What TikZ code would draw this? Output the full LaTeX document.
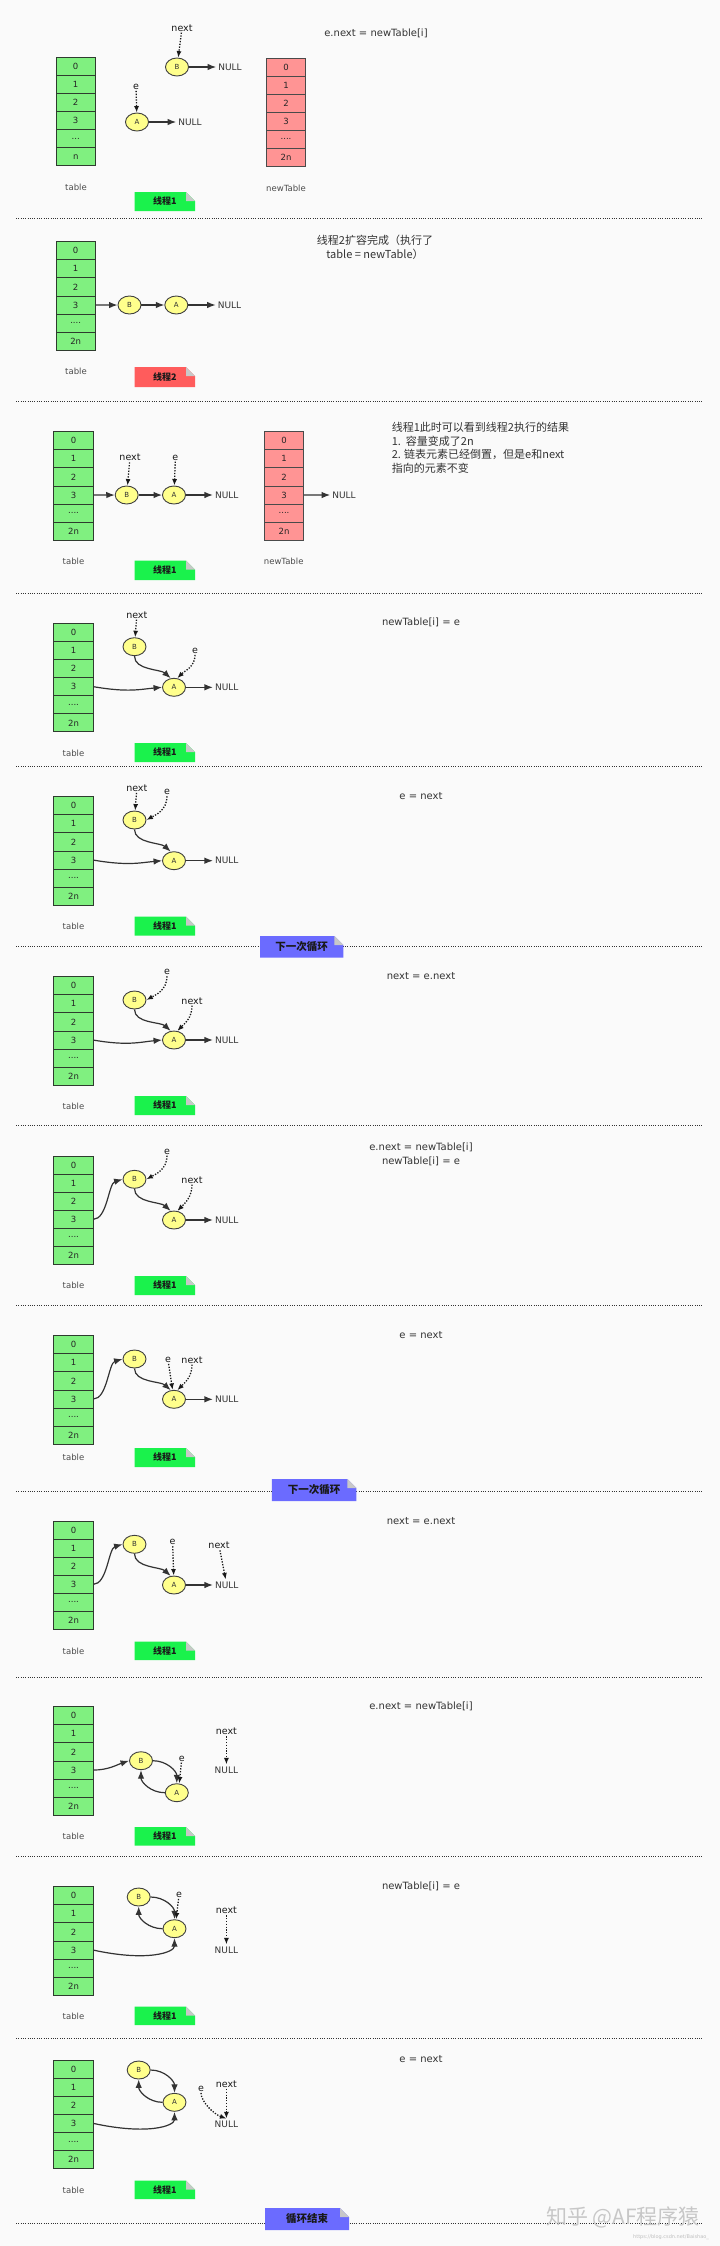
\documentclass[tikz,border=0pt]{standalone}
\usepackage{fontspec}
\setmainfont{DejaVu Sans}
\newfontfamily\cjk{Noto Sans CJK SC}
\usetikzlibrary{shapes.geometric,arrows.meta}
\definecolor{bgc}{HTML}{FAFAFA}
\definecolor{cellgreen}{HTML}{80F080}
\definecolor{cellbd}{HTML}{2E3B2E}
\definecolor{cellred}{HTML}{FF9494}
\definecolor{cellbdr}{HTML}{4A4A4A}
\definecolor{nodefill}{HTML}{FFFF8C}
\definecolor{nodebd}{HTML}{404040}
\definecolor{notegreen}{HTML}{1AF24C}
\definecolor{notered}{HTML}{FF5C5C}
\definecolor{noteblue}{HTML}{6B6BFF}
\definecolor{foldc}{HTML}{C8C8C8}
\definecolor{arrowc}{HTML}{333333}
\newcommand\celldots{....}
\newcommand\celldotsA{...}
\newcommand\mktable[5]{%
  \foreach \lab [count=\k from 0] in {#5}
    \node[#4] (#1-\k) at (#2,{#3+9.05+18.1*\k}) {\lab};
}
\newcommand\mknote[8]{%
  \fill[#6] (#2,#3) -- ({#4-9},#3) -- (#4,{#3+9}) -- (#4,#5) -- (#2,#5) -- cycle;
  \fill[foldc] ({#4-9},#3) -- ({#4-9},{#3+9}) -- (#4,{#3+9}) -- cycle;
  \node[#7] (#1) at ({(#2+#4)/2},{(#3+#5)/2}) {#8};
}
\tikzset{
  cellg/.style={rectangle, draw=cellbd, fill=cellgreen, minimum width=39.5pt, minimum height=18.1pt,
    inner sep=0pt, outer sep=0pt, line width=0.9pt, font=\fontsize{8.5}{10}\selectfont, text=black!85},
  cellr/.style={cellg, fill=cellred, draw=cellbdr},
  lnode/.style={ellipse, draw=nodebd, fill=nodefill, minimum width=23pt, minimum height=18pt,
    inner sep=0pt, line width=0.9pt, font=\fontsize{7}{8}\selectfont, text=black!80},
  link/.style={draw=arrowc, line width=1.2pt, -{Latex[length=8.5pt,width=6.5pt]}},
  ptr/.style={draw=black!90, line width=1.3pt, dash pattern=on 1.3pt off 1.5pt, -{Latex[length=6.5pt,width=5pt]}},
  nulltxt/.style={font=\fontsize{9}{10}\selectfont, text=black!80, inner sep=2pt},
  lbl/.style={font=\fontsize{9.5}{11}\selectfont, text=black!90, inner sep=1pt},
  caption/.style={font=\fontsize{8.5}{10}\selectfont, text=black!70, inner sep=0pt},
  code/.style={font=\fontsize{10}{13.3}\selectfont, text=black!80, inner sep=0pt, align=center},
  cjktxt/.style={font=\cjk\fontsize{11}{13.4}\selectfont, text=black!80, inner sep=0pt},
  notetext/.style={font=\cjk\bfseries\fontsize{9}{10}\selectfont, text=black!90, inner sep=0pt},
  looptext/.style={font=\cjk\bfseries\fontsize{10.5}{12}\selectfont, text=black!90, inner sep=0pt},
  sep/.style={draw=black!80, line width=1pt, dash pattern=on 1pt off 1.3pt},
}
\begin{document}
\begin{tikzpicture}[x=1pt,y=-1pt]
\useasboundingbox (0,0) rectangle (720,2246);
\fill[bgc] (0,0) rectangle (720,2246);
% separators
\foreach \yy [count=\q] in {218,401,593,766,946,1125,1305,1491,1677,1856,2038,2223} {
  \coordinate (sl\q) at (16,\yy);
  \coordinate (sr\q) at (702,\yy);
  \draw[sep] (sl\q) -- (sr\q);
}
% ---------- panel 1
\mktable{ta}{75.7}{57.3}{cellg}{0,1,2,3,\celldotsA,n}
\mktable{na}{286}{58}{cellr}{0,1,2,3,\celldots,2n}
\node[caption] (capta) at (76,187) {table};
\node[caption] (capna) at (286,188) {newTable};
\node[lnode] (Ba) at (177,67) {B};
\node[nulltxt] (nBa) at (230,67) {NULL};
\draw[link] (Ba) -- (nBa);
\node[lnode] (Aa) at (137,122) {A};
\node[nulltxt] (nAa) at (190,122) {NULL};
\draw[link] (Aa) -- (nAa);
\node[lbl] (nxa) at (182,28) {next};
\draw[ptr] (nxa) -- (Ba);
\node[lbl] (ea) at (136,87) {e};
\draw[ptr] (ea) -- (Aa);
\node[code] (codea) at (376,33) {e.next = newTable[i]};
\mknote{notea}{134.5}{192}{195}{211}{notegreen}{notetext}{线程1}
% ---------- panel 2
\mktable{tb}{75.7}{241.7}{cellg}{0,1,2,3,\celldots,2n}
\node[lnode] (Bb) at (129.5,305) {B};
\node[lnode] (Ab) at (176.3,305) {A};
\node[nulltxt] (nAb) at (229.5,305) {NULL};
\draw[link] (tb-3.east) -- (Bb);
\draw[link] (Bb) -- (Ab);
\draw[link] (Ab) -- (nAb);
\node[caption] (captb) at (76,371.7) {table};
\mknote{noteb}{134.5}{367}{195}{387}{notered}{notetext}{线程2}
\node[cjktxt, align=center] (txtb) at (375,247.5) {线程2扩容完成（执行了\\table = newTable）};
% ---------- panel 3
\mktable{tc}{73.5}{431.7}{cellg}{0,1,2,3,\celldots,2n}
\mktable{nc}{284}{431.7}{cellr}{0,1,2,3,\celldots,2n}
\node[lnode] (Bc) at (126.7,495) {B};
\node[lnode] (Ac) at (174,495) {A};
\node[nulltxt] (nAc) at (226.8,495) {NULL};
\node[nulltxt] (nNc) at (344,495) {NULL};
\draw[link] (tc-3.east) -- (Bc);
\draw[link] (Bc) -- (Ac);
\draw[link] (Ac) -- (nAc);
\draw[link] (nc-3.east) -- (nNc);
\node[lbl] (nxc) at (130,457.7) {next};
\draw[ptr] (nxc) -- (Bc);
\node[lbl] (ec) at (175.4,457.7) {e};
\draw[ptr] (ec) -- (Ac);
\node[caption] (captc) at (73.5,561) {table};
\node[caption] (capnc) at (283.7,561) {newTable};
\mknote{notec}{134.5}{560.7}{195}{580}{notegreen}{notetext}{线程1}
\node[cjktxt, align=left, anchor=north west] (txtc) at (391.6,422.5) {线程1此时可以看到线程2执行的结果\\1.~~容量变成了2n\\2. 链表元素已经倒置，但是e和next\\指向的元素不变};
% ---------- panel 4
\mktable{td}{73.5}{623.3}{cellg}{0,1,2,3,\celldots,2n}
\node[lnode] (Bd) at (134.5,646.7) {B};
\node[lnode] (Ad) at (174,687.3) {A};
\node[nulltxt] (nAd) at (226.8,687.3) {NULL};
\draw[link] (Ad) -- (nAd);
\draw[link] (Bd.south) .. controls +(0,14) and +(-10,-9) .. (Ad.110);
\draw[link] (td-3.east) .. controls +(35,6) and +(-22,2) .. (Ad.west);
\node[lbl] (nxd) at (136.8,615) {next};
\draw[ptr] (nxd) -- (Bd);
\node[lbl] (ed) at (195,651) {e};
\draw[ptr] (ed.south) .. controls +(0,12) and +(8,-8) .. (Ad.70);
\node[caption] (captd) at (73.5,753) {table};
\mknote{noted}{134.5}{743}{195}{762}{notegreen}{notetext}{线程1}
\node[code] (coded) at (421,622.7) {newTable[i] = e};
% ---------- panel 5
\mktable{te}{73.5}{796.7}{cellg}{0,1,2,3,\celldots,2n}
\node[lnode] (Be) at (134.5,820) {B};
\node[lnode] (Ae) at (174,860.7) {A};
\node[nulltxt] (nAe) at (226.8,860.7) {NULL};
\draw[link] (Ae) -- (nAe);
\draw[link] (Be.south) .. controls +(0,14) and +(-10,-9) .. (Ae.110);
\draw[link] (te-3.east) .. controls +(35,6) and +(-22,2) .. (Ae.west);
\node[lbl] (nxe) at (136.8,788.3) {next};
\draw[ptr] (nxe) -- (Be);
\node[lbl] (ee) at (167,792.3) {e};
\draw[ptr] (ee.south) .. controls +(0,14) and +(9,-5) .. (Be.east);
\node[caption] (capte) at (73.5,926.7) {table};
\mknote{notee}{134.5}{916.7}{195}{935.7}{notegreen}{notetext}{线程1}
\node[code] (codee) at (421,796) {e = next};
\mknote{loopa}{260}{936}{343.4}{957.7}{noteblue}{looptext}{下一次循环}
% ---------- panel 6
\mktable{tf}{73.5}{976.7}{cellg}{0,1,2,3,\celldots,2n}
\node[lnode] (Bf) at (134.5,1000) {B};
\node[lnode] (Af) at (174,1040) {A};
\node[nulltxt] (nAf) at (226.8,1040) {NULL};
\draw[link] (Af) -- (nAf);
\draw[link] (Bf.south) .. controls +(0,14) and +(-10,-9) .. (Af.110);
\draw[link] (tf-3.east) .. controls +(35,6) and +(-22,2) .. (Af.west);
\node[lbl] (ef) at (167,972.3) {e};
\draw[ptr] (ef.south) .. controls +(0,14) and +(9,-5) .. (Bf.east);
\node[lbl] (nxf) at (192,1001) {next};
\draw[ptr] (nxf.south) .. controls +(0,12) and +(8,-8) .. (Af.70);
\node[caption] (captf) at (73.5,1106) {table};
\mknote{notef}{134.5}{1096}{195}{1115}{notegreen}{notetext}{线程1}
\node[code] (codef) at (421,975.7) {next = e.next};
% ---------- panel 7
\mktable{tg}{73.5}{1156}{cellg}{0,1,2,3,\celldots,2n}
\node[lnode] (Bg) at (134.5,1179.3) {B};
\node[lnode] (Ag) at (174,1220) {A};
\node[nulltxt] (nAg) at (226.8,1220) {NULL};
\draw[link] (Ag) -- (nAg);
\draw[link] (Bg.south) .. controls +(0,14) and +(-10,-9) .. (Ag.110);
\draw[link] (tg-3.east) .. controls +(14,0) and +(-14,4) .. (Bg.west);
\node[lbl] (eg) at (167,1151.7) {e};
\draw[ptr] (eg.south) .. controls +(0,14) and +(9,-5) .. (Bg.east);
\node[lbl] (nxg) at (192,1180) {next};
\draw[ptr] (nxg.south) .. controls +(0,12) and +(8,-8) .. (Ag.70);
\node[caption] (captg) at (73.5,1285.7) {table};
\mknote{noteg}{134.5}{1276}{195}{1295}{notegreen}{notetext}{线程1}
\node[code] (codeg) at (421,1154.4) {e.next = newTable[i]\\newTable[i] = e};
% ---------- panel 8
\mktable{th}{73.5}{1335.7}{cellg}{0,1,2,3,\celldots,2n}
\node[lnode] (Bh) at (134.5,1359) {B};
\node[lnode] (Ah) at (174,1399.3) {A};
\node[nulltxt] (nAh) at (226.8,1399.3) {NULL};
\draw[link] (Ah) -- (nAh);
\draw[link] (Bh.south) .. controls +(0,14) and +(-10,-9) .. (Ah.110);
\draw[link] (th-3.east) .. controls +(14,0) and +(-14,4) .. (Bh.west);
\node[lbl] (eh) at (168,1360) {e};
\draw[ptr] (eh) -- (Ah);
\node[lbl] (nxh) at (192,1360) {next};
\draw[ptr] (nxh.south) .. controls +(0,12) and +(8,-8) .. (Ah.70);
\node[caption] (capth) at (73.5,1457.7) {table};
\mknote{noteh}{134.5}{1448}{195}{1467}{notegreen}{notetext}{线程1}
\node[code] (codeh) at (421,1335) {e = next};
\mknote{loopb}{271.8}{1479}{356.3}{1501}{noteblue}{looptext}{下一次循环}
% ---------- panel 9
\mktable{ti}{73.5}{1521}{cellg}{0,1,2,3,\celldots,2n}
\node[lnode] (Bi) at (134.5,1544.3) {B};
\node[lnode] (Ai) at (174,1585) {A};
\node[nulltxt] (nAi) at (226.8,1585) {NULL};
\draw[link] (Ai) -- (nAi);
\draw[link] (Bi.south) .. controls +(0,14) and +(-10,-9) .. (Ai.110);
\draw[link] (ti-3.east) .. controls +(14,0) and +(-14,4) .. (Bi.west);
\node[lbl] (ei) at (172.6,1542.3) {e};
\draw[ptr] (ei) -- (Ai);
\node[lbl] (nxi) at (219,1545.7) {next};
\draw[ptr] (nxi) -- (nAi);
\node[caption] (capti) at (73.5,1651) {table};
\mknote{notei}{134.5}{1641.7}{195}{1660}{notegreen}{notetext}{线程1}
\node[code] (codei) at (421,1520.7) {next = e.next};
% ---------- panel 10
\mktable{tj}{73.5}{1706.7}{cellg}{0,1,2,3,\celldots,2n}
\node[lnode] (Bj) at (141,1760.7) {B};
\node[lnode] (Aj) at (176.8,1792.7) {A};
\node[nulltxt] (nullj) at (226.4,1770) {NULL};
\draw[link] (tj-3.east) .. controls +(15,0) and +(-12,4) .. (Bj.west);
\draw[link] (Bj.east) .. controls +(14,0) and +(0,-12) .. (Aj.north);
\draw[link] (Aj.west) .. controls +(-14,0) and +(0,12) .. (Bj.south);
\node[lbl] (ej) at (181.8,1758.7) {e};
\draw[ptr] (ej) -- (Aj.75);
\node[lbl] (nxj) at (226.4,1731.7) {next};
\draw[ptr] (nxj) -- (nullj);
\node[caption] (captj) at (73.5,1836.7) {table};
\mknote{notej}{134.5}{1827}{195}{1845.7}{notegreen}{notetext}{线程1}
\node[code] (codej) at (421,1706) {e.next = newTable[i]};
% ---------- panel 11
\mktable{tk}{73.5}{1886.7}{cellg}{0,1,2,3,\celldots,2n}
\node[lnode] (Bk) at (138.7,1897) {B};
\node[lnode] (Ak) at (174.5,1928.7) {A};
\node[nulltxt] (nullk) at (226.4,1950) {NULL};
\draw[link] (Bk.east) .. controls +(14,0) and +(0,-12) .. (Ak.north);
\draw[link] (Ak.west) .. controls +(-14,0) and +(0,12) .. (Bk.south);
\draw[link] (tk-3.east) .. controls +(55,12) and +(0,14) .. (Ak.south);
\node[lbl] (ek) at (179,1895) {e};
\draw[ptr] (ek) -- (Ak.80);
\node[lbl] (nxk) at (226.4,1910.7) {next};
\draw[ptr] (nxk) -- (nullk);
\node[caption] (captk) at (73.5,2016) {table};
\mknote{notek}{134.5}{2006.7}{195}{2025}{notegreen}{notetext}{线程1}
\node[code] (codek) at (421,1886) {newTable[i] = e};
% ---------- panel 12
\mktable{tl}{73.5}{2060}{cellg}{0,1,2,3,\celldots,2n}
\node[lnode] (Bl) at (138.7,2070) {B};
\node[lnode] (Al) at (174.5,2102.3) {A};
\node[nulltxt] (nulll) at (226.4,2124) {NULL};
\draw[link] (Bl.east) .. controls +(14,0) and +(0,-12) .. (Al.north);
\draw[link] (Al.west) .. controls +(-14,0) and +(0,12) .. (Bl.south);
\draw[link] (tl-3.east) .. controls +(55,12) and +(0,14) .. (Al.south);
\node[lbl] (el) at (201,2089) {e};
\draw[ptr] (el.south) .. controls +(0,9) and +(-12,-4) .. (nulll.north);
\node[lbl] (nxl) at (226.4,2084.3) {next};
\draw[ptr] (nxl) -- (nulll);
\node[caption] (captl) at (73.5,2190) {table};
\mknote{notel}{134.5}{2180.7}{195}{2199}{notegreen}{notetext}{线程1}
\node[code] (codel) at (421,2059.3) {e = next};
\mknote{loopend}{265}{2208}{349}{2230}{noteblue}{looptext}{循环结束}
% watermark
\node[font=\cjk\fontsize{21}{24}\selectfont, text=black!22, inner sep=0pt] (wm) at (623,2217) {知乎 @AF程序猿};
\node[font=\fontsize{5}{6}\selectfont, text=black!25, inner sep=0pt] (url) at (671,2237) {https://blog.csdn.net/Baishao\_};
\end{tikzpicture}
\end{document}
